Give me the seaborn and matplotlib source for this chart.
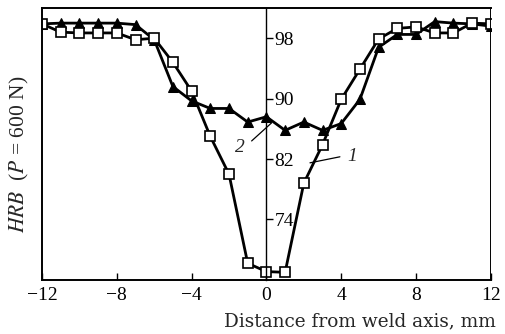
import numpy as np
import pandas as pd
import matplotlib
matplotlib.use('Agg')
import matplotlib.pyplot as plt
import seaborn as sns

# distance from weld axis, mm
distance = list(range(-12, 13))

# curve 1 (open squares)
hrb_1 = [99.9, 98.8, 98.7, 98.7, 98.7, 97.8, 98.0, 94.8, 91.0, 85.0, 80.0, 68.2, 67.1,
         67.0, 78.8, 83.9, 89.9, 93.9, 97.9, 99.3, 99.5, 98.7, 98.7, 100.0, 99.9]

# curve 2 (filled triangles)
hrb_2 = [99.9, 100.0, 100.0, 100.0, 100.0, 99.8, 97.8, 91.6, 89.7, 88.7, 88.7, 86.9, 87.6,
         85.8, 86.9, 85.8, 86.7, 89.9, 96.8, 98.5, 98.5, 100.2, 100.0, 99.9, 99.6]

x_ticks = [-12, -8, -4, 0, 4, 8, 12]
y_ticks = [74, 82, 90, 98]

df1 = pd.DataFrame({'x': distance, 'hrb': hrb_1})
df2 = pd.DataFrame({'x': distance, 'hrb': hrb_2})

sns.set_style('white')
plt.rcParams['font.family'] = ['Liberation Serif', 'DejaVu Serif']
plt.rcParams['mathtext.fontset'] = 'stix'

fig = plt.figure(figsize=(5.06, 3.34), dpi=100)
ax = fig.add_axes([0.083, 0.162, 0.887, 0.814])

sns.lineplot(data=df2, x='x', y='hrb', ax=ax, color='black', lw=2.0,
             marker='^', markersize=7.5, markerfacecolor='black', markeredgecolor='black')
sns.lineplot(data=df1, x='x', y='hrb', ax=ax, color='black', lw=2.0,
             marker='s', markersize=6.5, markerfacecolor='white', markeredgecolor='black',
             markeredgewidth=1.2)

ax.set_xlim(-12, 12)
ax.set_ylim(66.0, 102.0)

# y axis sits on the weld axis (x = 0), ticks and labels to the right
ax.spines['right'].set_position(('data', 0))
ax.yaxis.tick_right()
ax.yaxis.set_label_position('left')
ax.axvline(12, color='black', lw=1.4)
for s in ['left', 'right', 'top', 'bottom']:
    ax.spines[s].set_color('black')
    ax.spines[s].set_linewidth(1.4)
ax.spines['right'].set_linewidth(1.0)

ax.set_yticks(y_ticks)
ax.set_yticklabels([str(v) for v in y_ticks])
ax.tick_params(axis='y', direction='out', length=5, width=1, pad=1, labelsize=14, colors='black')

ax.set_xticks(x_ticks)
ax.set_xticklabels([str(v).replace('-', '\u2212') for v in x_ticks])
ax.tick_params(axis='x', direction='in', length=5, width=1, pad=5, labelsize=14, colors='black')
ax.tick_params(axis='x', bottom=True, top=False)

ax.set_xlabel('')
ax.set_ylabel(r'$HRB$  ($P$ = 600 N)', fontsize=15.5)
ax.yaxis.set_label_coords(-0.025, 0.46)

fig.text(224 / 506, 1 - 326 / 334, 'Distance from weld axis, mm', fontsize=13.3,
         family='DejaVu Serif', ha='left', va='baseline')

# curve labels with leader lines
ax.plot([2.33, 3.93], [81.5, 82.3], color='black', lw=0.9)
ax.text(4.6, 82.3, '1', fontsize=14, style='italic', ha='center', va='center')
ax.plot([-0.79, 0.28], [84.4, 86.8], color='black', lw=0.9)
ax.text(-1.42, 83.5, '2', fontsize=14, style='italic', ha='center', va='center')

fig.savefig('out.png', dpi=100)
